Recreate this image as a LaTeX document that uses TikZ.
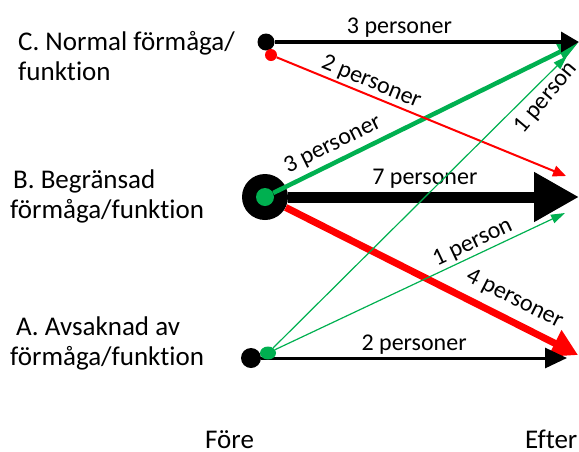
\documentclass[tikz,border=0pt]{standalone}
\usepackage{fontspec}
\setmainfont{Carlito}[Ligatures=NoCommon]
\usetikzlibrary{arrows.meta,shapes.geometric}
\definecolor{ogreen}{HTML}{00B050}
\definecolor{ored}{HTML}{FF0000}
\begin{document}
\begin{tikzpicture}[x=1pt,y=-1pt,
 side/.style={anchor=base west, inner sep=0pt, font=\fontsize{27}{31}\selectfont},
 lab/.style={font=\fontsize{24}{28}\selectfont, inner sep=1pt, sloped},
 dot/.style={circle, fill, inner sep=0pt, minimum size=#1},
]
\useasboundingbox (0,0) rectangle (579,451);

% side labels
\node[side] (c1) at (18,50) {C. Normal förmåga/};
\node[side] (c2) at (18,80) {funktion};
\node[side] (b1) at (13,188) {B. Begränsad};
\node[side] (b2) at (10,218) {förmåga/funktion};
\node[side] (a1) at (16,335) {A. Avsaknad av};
\node[side] (a2) at (10,365) {förmåga/funktion};
\node[side] (fore) at (205,448) {Före};
\node[side] (efter) at (525,448) {Efter};

% end points
\coordinate (Ct) at (579,42);
\coordinate (Crt) at (566,176);
\coordinate (Cgt) at (578,43);
\coordinate (Cgt2) at (567,56);
\coordinate (Bt) at (579,197);
\coordinate (Bgt) at (565,213);
\coordinate (Art) at (578,355);
\coordinate (At) at (567,358);

% B
\node[dot=46pt] (B) at (265,197) {};
\draw[ored, line width=7pt, -{Triangle[length=26pt,width=28pt]}] (B) -- (Art)
  node[lab, pos=0.75, above=7pt, black] (l4) {4 personer};
\draw[line width=11pt, -{Triangle[length=45pt,width=47pt]}] (B) -- (Bt)
  node[lab, pos=0.47, above=2pt] (l7) {7 personer};
\node[dot=18pt, fill=ogreen] (Bg) at (265,197) {};
\draw[ogreen, line width=4.5pt, -{Triangle[length=20pt,width=17pt]}] (Bg) -- (Cgt)
  node[lab, pos=0.22, above=4pt, black] (l3g) {3 personer};

% C
\node[dot=17pt] (C) at (266,42) {};
\draw[line width=3.5pt, -{Triangle[length=18pt,width=20pt]}] (C) -- (Ct)
  node[lab, pos=0.41, above=2pt] (l3) {3 personer};
\node[dot=12pt, fill=ored] (Cr) at (271,55) {};
\draw[ored, line width=2pt, -{Triangle[length=13pt,width=11pt]}] (Cr) -- (Crt)
  node[lab, pos=0.31, above=1pt, black] (l2r) {2 personer};

% A
\node[dot=20pt] (A) at (251,358) {};
\draw[line width=3pt, -{Triangle[length=22pt,width=20pt]}] (A) -- (At)
  node[lab, pos=0.5, above=1pt] (l2) {2 personer};
\node[ellipse, fill=ogreen, inner sep=0pt, minimum width=16pt, minimum height=13pt] (Ag) at (268,353) {};
\draw[ogreen, line width=1.2pt, -{Triangle[length=14pt,width=9pt]}] (Ag) -- (Cgt2);
\node[font=\fontsize{24}{28}\selectfont, inner sep=1pt, rotate=50] (l1a) at (546,98) {1 person};
\draw[ogreen, line width=1.2pt, -{Triangle[length=14pt,width=9pt]}] (Ag) -- (Bgt)
  node[lab, pos=0.7, above=1pt, black] (l1b) {1 person};
\end{tikzpicture}
\end{document}
